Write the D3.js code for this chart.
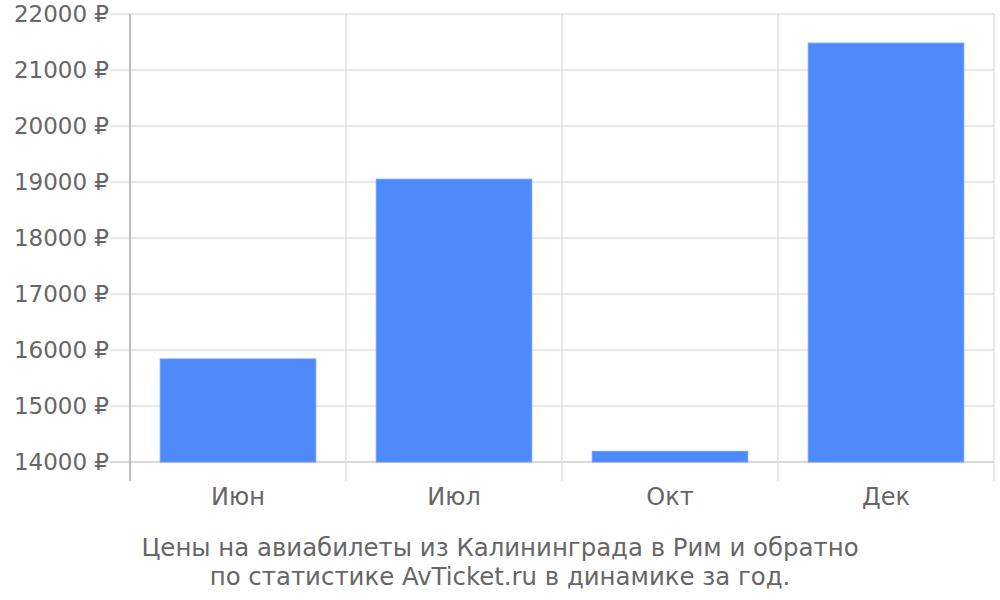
<!DOCTYPE html>
<html>
<head>
<meta charset="utf-8">
<script src="https://cdn.jsdelivr.net/npm/d3@7/dist/d3.min.js"></script>
<style>
  html, body { margin: 0; padding: 0; background: #fff; }
  svg { display: block; font-family: "DejaVu Sans", sans-serif; }
</style>
</head>
<body>
<svg id="chart" width="1000" height="600"></svg>
<script>
// Prices by month (rubles)
const months = ['Июн', 'Июл', 'Окт', 'Дек'];
const prices = [15840, 19050, 14190, 21480];
const yTicks = [14000, 15000, 16000, 17000, 18000, 19000, 20000, 21000, 22000];
const titleLines = [
    'Цены на авиабилеты из Калининграда в Рим и обратно',
    'по статистике AvTicket.ru в динамике за год.'
];

const svg = d3.select('#chart');
const plotLeft = 130, plotRight = 994, plotTop = 14, plotBottom = 462;
const textColor = '#666666';

const x = d3.scaleBand().domain(months).range([plotLeft, plotRight]).paddingInner(0.28).paddingOuter(0.14);
const y = d3.scaleLinear().domain([14000, 22000]).range([plotBottom, plotTop]);
const step = x.step();

// horizontal grid
svg.append('g')
    .selectAll('line')
    .data(yTicks)
    .join('line')
    .attr('x1', plotLeft - 20)
    .attr('x2', plotRight)
    .attr('y1', (d) => y(d))
    .attr('y2', (d) => y(d))
    .attr('stroke', (d) => (d === 14000 ? '#cccccc' : '#e0e0e0'))
    .attr('stroke-width', 1.5);

// vertical grid at category boundaries
svg.append('g')
    .selectAll('line')
    .data(d3.range(1, months.length + 1))
    .join('line')
    .attr('x1', (i) => plotLeft + i * step)
    .attr('x2', (i) => plotLeft + i * step)
    .attr('y1', plotTop)
    .attr('y2', plotBottom + 19)
    .attr('stroke', '#e0e0e0')
    .attr('stroke-width', 1.5);

// left axis line
svg.append('line')
    .attr('x1', plotLeft).attr('x2', plotLeft)
    .attr('y1', plotTop).attr('y2', plotBottom + 19)
    .attr('stroke', '#aaaaaa')
    .attr('stroke-width', 1.5);

// bars
svg.append('g')
    .selectAll('rect')
    .data(months.map((m, i) => ({ month: m, price: prices[i] })))
    .join('rect')
    .attr('x', (d) => x(d.month))
    .attr('width', x.bandwidth())
    .attr('y', (d) => y(d.price))
    .attr('height', (d) => plotBottom - y(d.price))
    .attr('fill', '#4d89f9')
    .attr('stroke', '#6b9cfa')
    .attr('stroke-width', 1);

// y labels
svg.append('g')
    .selectAll('text')
    .data(yTicks)
    .join('text')
    .attr('x', plotLeft - 21)
    .attr('y', (d) => y(d))
    .attr('dy', '0.35em')
    .attr('text-anchor', 'end')
    .attr('font-size', 23)
    .attr('fill', textColor)
    .text((d) => `${d} ₽`);

// x labels
svg.append('g')
    .selectAll('text')
    .data(months)
    .join('text')
    .attr('x', (d) => x(d) + x.bandwidth() / 2)
    .attr('y', 505)
    .attr('text-anchor', 'middle')
    .attr('font-size', 24)
    .attr('fill', textColor)
    .text((d) => d);

// caption
svg.append('g')
    .selectAll('text')
    .data(titleLines)
    .join('text')
    .attr('x', 500)
    .attr('y', (d, i) => 556 + i * 29)
    .attr('text-anchor', 'middle')
    .attr('font-size', 24.4)
    .attr('fill', textColor)
    .text((d) => d);
</script>
</body>
</html>
